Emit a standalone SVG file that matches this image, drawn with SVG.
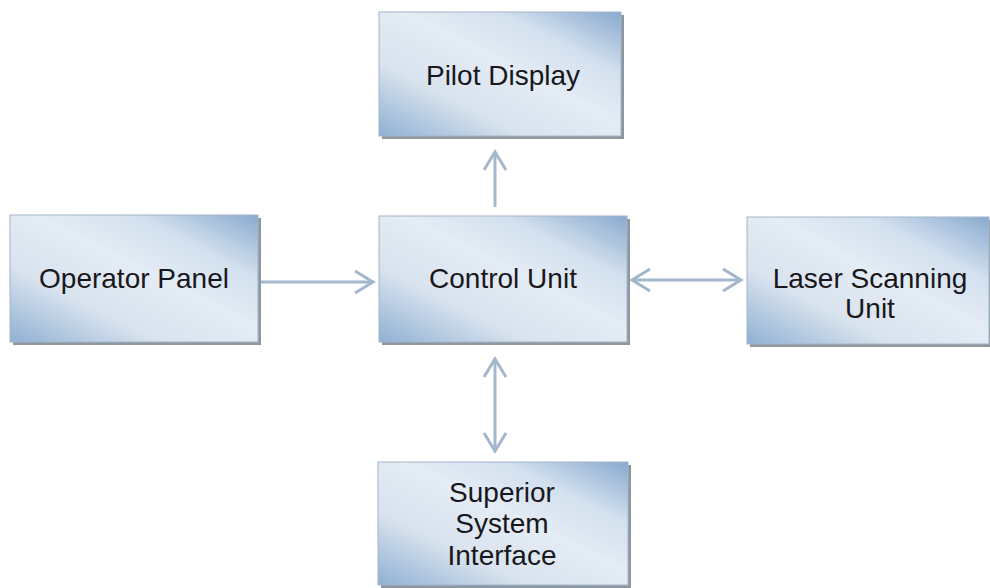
<svg xmlns="http://www.w3.org/2000/svg" width="990" height="588" viewBox="0 0 990 588">
<style>
.box{fill:url(#g);stroke:#a3b6ca;stroke-width:1}
.sh{fill:#8e979f}
.t{font-family:"Liberation Sans",Arial,sans-serif;font-size:28px;fill:#18181c;text-anchor:middle}
.c{fill:none;stroke:#a4b7cc;stroke-width:3}
</style>
<defs>
<linearGradient id="g" x1="0" y1="1" x2="1" y2="0">
<stop offset="0" stop-color="#8fb0d4"/>
<stop offset="0.3" stop-color="#d9e3ee"/>
<stop offset="0.55" stop-color="#e4ecf5"/>
<stop offset="0.75" stop-color="#d3e0ee"/>
<stop offset="1" stop-color="#88a9cf"/>
</linearGradient>
<marker id="a" viewBox="0 0 24 24" refX="20" refY="12" markerWidth="24" markerHeight="24" markerUnits="userSpaceOnUse" orient="auto-start-reverse">
<path d="M2 1 L20 12 L2 23" fill="none" stroke="#a4b7cc" stroke-width="3"/>
</marker>
</defs>
<g id="connectors">
<line class="c" x1="495" y1="207" x2="495" y2="152" marker-end="url(#a)"/>
<line class="c" x1="260" y1="282" x2="373" y2="282" marker-end="url(#a)"/>
<line class="c" x1="632" y1="280" x2="741" y2="280" marker-start="url(#a)" marker-end="url(#a)"/>
<line class="c" x1="495" y1="359" x2="495" y2="451" marker-start="url(#a)" marker-end="url(#a)"/>
</g>
<g id="pilot">
<rect class="sh" x="382" y="15" width="242" height="124"/>
<rect class="box" x="379" y="12" width="242" height="124"/>
<text class="t" x="503" y="85">Pilot Display</text>
</g>
<g id="operator">
<rect class="sh" x="13" y="218" width="248" height="127"/>
<rect class="box" x="10" y="215" width="248" height="127"/>
<text class="t" x="134" y="288">Operator Panel</text>
</g>
<g id="control">
<rect class="sh" x="382" y="219" width="248" height="126"/>
<rect class="box" x="379" y="216" width="248" height="126"/>
<text class="t" x="503" y="288">Control Unit</text>
</g>
<g id="laser">
<rect class="sh" x="750" y="220" width="242" height="127"/>
<rect class="box" x="747" y="217" width="242" height="127"/>
<text class="t" x="870" y="288">Laser Scanning</text>
<text class="t" x="870" y="318">Unit</text>
</g>
<g id="superior">
<rect class="sh" x="381" y="465" width="250" height="126"/>
<rect class="box" x="378" y="462" width="250" height="123"/>
<text class="t" x="502" y="502">Superior</text>
<text class="t" x="502" y="533">System</text>
<text class="t" x="502" y="565">Interface</text>
</g>
</svg>
